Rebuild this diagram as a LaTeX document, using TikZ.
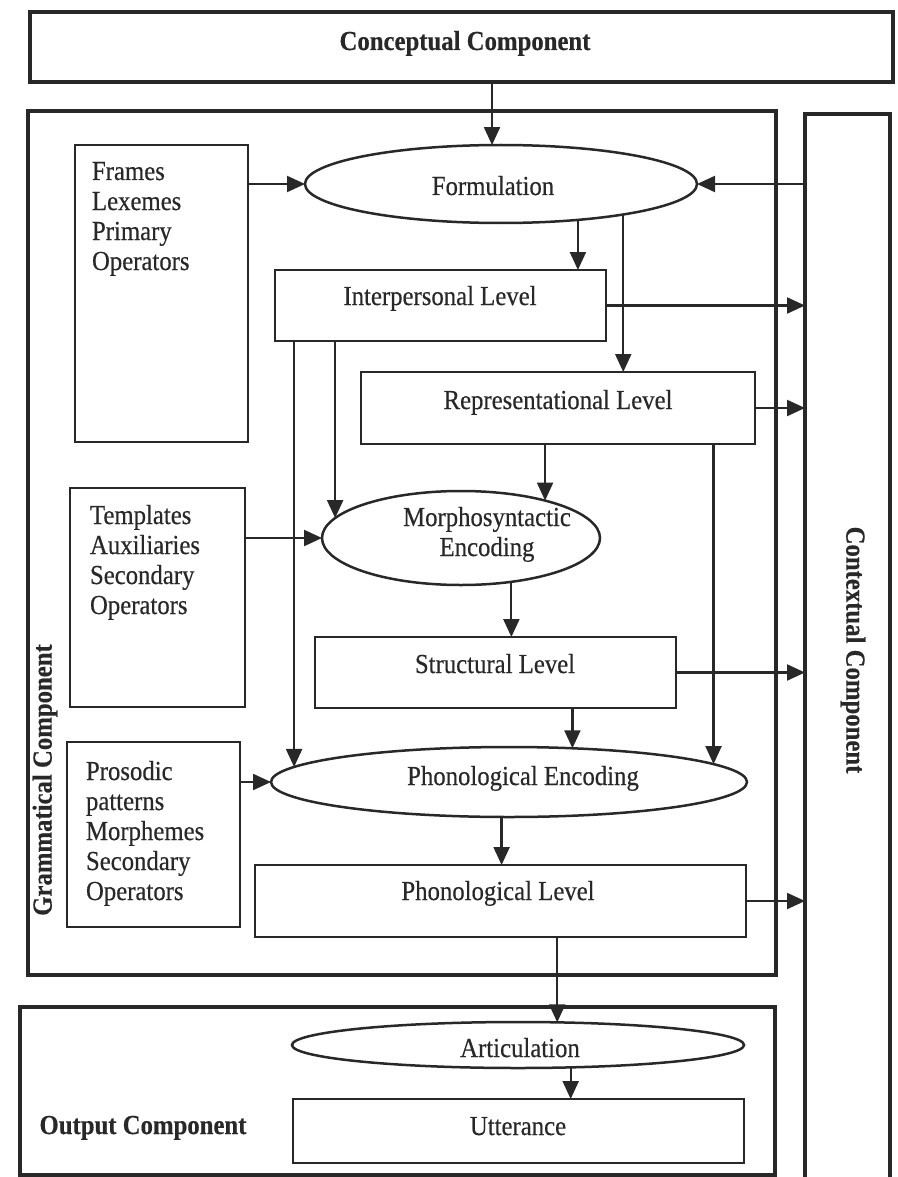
\documentclass[tikz,border=0pt]{standalone}
\usepackage{fontspec}
\setmainfont{Liberation Serif}[FakeStretch=0.9,FakeBold=0.4]
\usetikzlibrary{shapes.geometric,arrows.meta}
\definecolor{ink}{RGB}{40,40,40}
\begin{document}
\begin{tikzpicture}[x=1pt,y=1pt,
  every node/.style={inner sep=0pt, outer sep=0pt},
  compbox/.style={draw=ink, line width=3.5pt, rectangle},
  lvlbox/.style={draw=ink, line width=2.5pt, rectangle},
  proc/.style={draw=ink, line width=2.5pt, ellipse},
  txt/.style={text=ink, font=\fontsize{27.5}{30}\selectfont, anchor=base},
  listtxt/.style={txt, anchor=base west},
  comptxt/.style={text=ink, font=\fontsize{27.5}{30}\selectfont\bfseries},
  arr/.style={draw=ink, line width=2.2pt, -{Triangle[length=18pt,width=16pt]}},
]
\useasboundingbox (0,0) rectangle (897,-1177);

% components
\node[compbox, minimum width=863, minimum height=70] (concept) at (461.5,-47) {};
\node[compbox, minimum width=748, minimum height=864] (gram) at (402,-543) {};
\node[compbox, minimum width=85, minimum height=1086] (ctx) at (847.5,-657) {};
\node[compbox, minimum width=755, minimum height=168] (output) at (397.5,-1091) {};

\node[comptxt, anchor=base] (concepttxt) at (465,-50) {Conceptual Component};
\node[comptxt, rotate=90] (gramtxt) at (45,-780) {Grammatical Component};
\node[comptxt, rotate=-90] (ctxtxt) at (853,-650) {Contextual Component};
\node[comptxt, anchor=base] (outputtxt) at (143,-1134) {Output Component};

% primitive stores
\node[lvlbox, minimum width=173, minimum height=297] (frames) at (161.5,-293.5) {};
\node[lvlbox, minimum width=175, minimum height=219] (templ) at (157.5,-597.5) {};
\node[lvlbox, minimum width=173, minimum height=185] (pros) at (153.5,-834.5) {};

\node[listtxt] (framestxt) at (92,-180)
  {\begin{tabular}[t]{@{}l@{}}Frames\\Lexemes\\Primary\\Operators\end{tabular}};
\node[listtxt] (templtxt) at (90,-524)
  {\begin{tabular}[t]{@{}l@{}}Templates\\Auxiliaries\\Secondary\\Operators\end{tabular}};
\node[listtxt] (prostxt) at (86,-780)
  {\begin{tabular}[t]{@{}l@{}}Prosodic\\patterns\\Morphemes\\Secondary\\Operators\end{tabular}};

% levels
\node[lvlbox, minimum width=331, minimum height=71] (interp) at (440.5,-305.5) {};
\node[lvlbox, minimum width=394, minimum height=72] (rep) at (558,-408) {};
\node[lvlbox, minimum width=361, minimum height=71] (struct) at (495.5,-672.5) {};
\node[lvlbox, minimum width=491, minimum height=72] (phonlev) at (500.5,-901) {};
\node[lvlbox, minimum width=451, minimum height=64] (utter) at (518.5,-1131) {};

\node[txt] (interptxt) at (440,-305) {Interpersonal Level};
\node[txt] (reptxt) at (558,-409) {Representational Level};
\node[txt] (structtxt) at (495,-673) {Structural Level};
\node[txt] (phonlevtxt) at (498,-900) {Phonological Level};
\node[txt] (uttertxt) at (518,-1135) {Utterance};

% processes
\node[proc, minimum width=392, minimum height=78] (form) at (501,-184) {};
\node[proc, minimum width=278, minimum height=94] (morph) at (461,-538) {};
\node[proc, minimum width=476, minimum height=70] (phonenc) at (509,-782) {};
\node[proc, minimum width=452, minimum height=46] (artic) at (518,-1045) {};

\node[txt] (formtxt) at (493,-195) {Formulation};
\node[txt] (morphtxt) at (487,-526)
  {\begin{tabular}[t]{@{}c@{}}Morphosyntactic\\Encoding\end{tabular}};
\node[txt] (phonenctxt) at (523,-785) {Phonological Encoding};
\node[txt] (artictxt) at (520,-1057) {Articulation};

% connectors
\draw[arr] (concept.south -| form.103) -- (form.103);
\draw[arr] (frames.east |- form.west) -- (form.west);
\draw[arr] (ctx.west |- form.east) -- (form.east);
\draw[arr] (form.-25.9) -- (form.-25.9 |- interp.north);
\draw[arr] (form.-14) -- (form.-14 |- rep.north);
\draw[arr] (interp.east) -- (interp.east -| ctx.west);
\draw[arr] (rep.east) -- (rep.east -| ctx.west);
\draw[arr] (interp.south -| morph.171.9) -- (morph.171.9);
\draw[arr] (interp.south -| phonenc.176.2) -- (phonenc.176.2);
\draw[arr] (rep.south -| morph.24.1) -- (morph.24.1);
\draw[arr] (rep.south -| phonenc.5.8) -- (phonenc.5.8);
\draw[arr] (templ.east |- morph.west) -- (morph.west);
\draw[arr] (morph.-41.9) -- (morph.-41.9 |- struct.north);
\draw[arr] (struct.east) -- (struct.east -| ctx.west);
\draw[arr] (struct.south -| phonenc.28) -- (phonenc.28);
\draw[arr] (pros.east |- phonenc.west) -- (phonenc.west);
\draw[arr] (phonenc.-102.9) -- (phonenc.-102.9 |- phonlev.north);
\draw[arr] (phonlev.east) -- (phonlev.east -| ctx.west);
\draw[arr] (phonlev.south -| artic.30.2) -- (artic.30.2);
\draw[arr] (artic.-23.7) -- (artic.-23.7 |- utter.north);
\end{tikzpicture}
\end{document}
